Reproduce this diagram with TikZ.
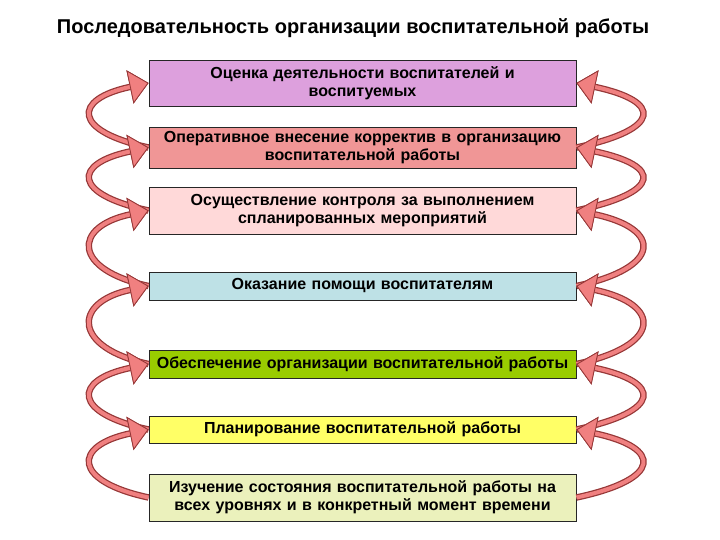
\documentclass[tikz,border=0pt]{standalone}
\usepackage{fontspec}
\setmainfont{Liberation Sans}
\usetikzlibrary{arrows.meta}
\definecolor{boxA}{RGB}{221,160,221}
\definecolor{boxB}{RGB}{240,150,150}
\definecolor{boxC}{RGB}{255,217,217}
\definecolor{boxD}{RGB}{190,225,230}
\definecolor{boxE}{RGB}{153,204,0}
\definecolor{boxF}{RGB}{255,255,102}
\definecolor{boxG}{RGB}{235,241,188}
\definecolor{bandfill}{RGB}{240,128,128}
\definecolor{bandline}{RGB}{150,55,55}
\tikzset{every picture/.style={line width=0.75pt}}

\begin{document}
\begin{tikzpicture}[x=1bp, y=-1bp,
    box/.style={draw=black!85, line width=0.9pt, inner xsep=2bp, inner ysep=0pt,
        text width=423bp, align=center, font=\bfseries\fontsize{16bp}{18bp}\selectfont},
    band/.style={line width=4pt, draw=bandfill,
        preaction={draw=bandline, line width=6.5pt},
        -{Triangle[length=19bp, width=34bp, line width=0.8pt, fill=bandfill, color=bandline]}},
    loopL/.style={out=168, in=192, distance=78bp},
    loopR/.style={out=12, in=-12, distance=88bp}]
    \useasboundingbox (0,0) rectangle (720,540);

    % 标题
    \node[font=\bfseries\fontsize{20bp}{24bp}\selectfont] (title) at (353,28)
        {Последовательность организации воспитательной работы};

    % 七个步骤
    \node[box, fill=boxA, minimum height=46bp] (b1) at (362.5,83)
        {Оценка деятельности воспитателей и\\воспитуемых};
    \node[box, fill=boxB, minimum height=41bp] (b2) at (362.5,147.5)
        {Оперативное внесение корректив в организацию\\воспитательной работы};
    \node[box, fill=boxC, minimum height=47bp] (b3) at (362.5,210.5)
        {Осуществление контроля за выполнением\\спланированных мероприятий};
    \node[box, fill=boxD, minimum height=28bp] (b4) at (362.5,286)
        {Оказание помощи воспитателям};
    \node[box, fill=boxE, minimum height=28bp] (b5) at (362.5,364)
        {Обеспечение организации воспитательной работы};
    \node[box, fill=boxF, minimum height=27bp] (b6) at (362.5,429.5)
        {Планирование воспитательной работы};
    \node[box, fill=boxG, minimum height=47bp] (b7) at (362.5,497.5)
        {Изучение состояния воспитательной работы на\\всех уровнях и в конкретный момент времени};

    % 两侧的弯箭头
    \foreach \lo/\up in {b2/b1,b3/b2,b4/b3,b5/b4,b6/b5,b7/b6}{
        \draw[band] (\lo.west) to[loopL] (\up.west);
        \draw[band] (\lo.east) to[loopR] (\up.east);
    }
\end{tikzpicture}
\end{document}
